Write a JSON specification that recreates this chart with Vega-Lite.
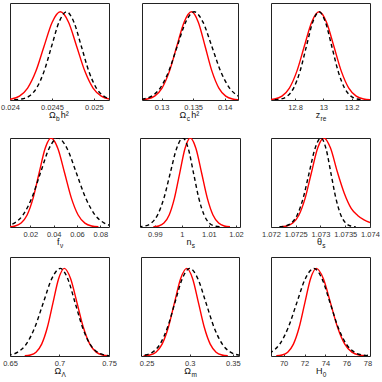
{
"$schema": "https://vega.github.io/schema/vega-lite/v6.json",
"padding": {"left": 0, "top": 2, "right": 0, "bottom": 0},
"data": {"name": "d"},
"datasets": {"d": [
{"p":"ob","s":"r","x":0.023918,"y":0.0022},{"p":"ob","s":"r","x":0.024015,"y":0.0111},{"p":"ob","s":"r","x":0.024113,"y":0.0439},{"p":"ob","s":"r","x":0.02421,"y":0.1353},{"p":"ob","s":"r","x":0.024308,"y":0.3247},{"p":"ob","s":"r","x":0.024405,"y":0.6065},{"p":"ob","s":"r","x":0.024503,"y":0.8825},{"p":"ob","s":"r","x":0.0246,"y":1},{"p":"ob","s":"r","x":0.024698,"y":0.8825},{"p":"ob","s":"r","x":0.024795,"y":0.6065},{"p":"ob","s":"r","x":0.024893,"y":0.3247},{"p":"ob","s":"r","x":0.02499,"y":0.1353},{"p":"ob","s":"r","x":0.025088,"y":0.0439},{"p":"ob","s":"r","x":0.025185,"y":0.0111},
{"p":"ob","s":"k","x":0.02405,"y":0.0022},{"p":"ob","s":"k","x":0.024139,"y":0.0111},{"p":"ob","s":"k","x":0.024228,"y":0.0439},{"p":"ob","s":"k","x":0.024317,"y":0.1353},{"p":"ob","s":"k","x":0.024406,"y":0.3247},{"p":"ob","s":"k","x":0.024495,"y":0.6065},{"p":"ob","s":"k","x":0.024584,"y":0.8825},{"p":"ob","s":"k","x":0.024673,"y":1},{"p":"ob","s":"k","x":0.024762,"y":0.8825},{"p":"ob","s":"k","x":0.024851,"y":0.6065},{"p":"ob","s":"k","x":0.02494,"y":0.3247},{"p":"ob","s":"k","x":0.025029,"y":0.1353},{"p":"ob","s":"k","x":0.025118,"y":0.0439},{"p":"ob","s":"k","x":0.025207,"y":0.0111},
{"p":"oc","s":"r","x":0.126575,"y":0.0022},{"p":"oc","s":"r","x":0.12774,"y":0.0111},{"p":"oc","s":"r","x":0.128905,"y":0.0439},{"p":"oc","s":"r","x":0.13007,"y":0.1353},{"p":"oc","s":"r","x":0.131235,"y":0.3247},{"p":"oc","s":"r","x":0.1324,"y":0.6065},{"p":"oc","s":"r","x":0.133565,"y":0.8825},{"p":"oc","s":"r","x":0.13473,"y":1},{"p":"oc","s":"r","x":0.135815,"y":0.8825},{"p":"oc","s":"r","x":0.1369,"y":0.6065},{"p":"oc","s":"r","x":0.137985,"y":0.3247},{"p":"oc","s":"r","x":0.13907,"y":0.1353},{"p":"oc","s":"r","x":0.140155,"y":0.0439},{"p":"oc","s":"r","x":0.14124,"y":0.0111},{"p":"oc","s":"r","x":0.142325,"y":0.0022},
{"p":"oc","s":"k","x":0.125745,"y":0.0022},{"p":"oc","s":"k","x":0.12709,"y":0.0111},{"p":"oc","s":"k","x":0.128435,"y":0.0439},{"p":"oc","s":"k","x":0.12978,"y":0.1353},{"p":"oc","s":"k","x":0.131125,"y":0.3247},{"p":"oc","s":"k","x":0.13247,"y":0.6065},{"p":"oc","s":"k","x":0.133815,"y":0.8825},{"p":"oc","s":"k","x":0.13516,"y":1},{"p":"oc","s":"k","x":0.13656,"y":0.8825},{"p":"oc","s":"k","x":0.13796,"y":0.6065},{"p":"oc","s":"k","x":0.13936,"y":0.3247},{"p":"oc","s":"k","x":0.14076,"y":0.1353},{"p":"oc","s":"k","x":0.14216,"y":0.0439},
{"p":"zre","s":"r","x":12.6025,"y":0.0022},{"p":"zre","s":"r","x":12.655,"y":0.0111},{"p":"zre","s":"r","x":12.7075,"y":0.0439},{"p":"zre","s":"r","x":12.76,"y":0.1353},{"p":"zre","s":"r","x":12.8125,"y":0.3247},{"p":"zre","s":"r","x":12.865,"y":0.6065},{"p":"zre","s":"r","x":12.9175,"y":0.8825},{"p":"zre","s":"r","x":12.97,"y":1},{"p":"zre","s":"r","x":13.0225,"y":0.8825},{"p":"zre","s":"r","x":13.075,"y":0.6065},{"p":"zre","s":"r","x":13.1275,"y":0.3247},{"p":"zre","s":"r","x":13.18,"y":0.1353},{"p":"zre","s":"r","x":13.2325,"y":0.0439},{"p":"zre","s":"r","x":13.285,"y":0.0111},{"p":"zre","s":"r","x":13.3375,"y":0.0022},
{"p":"zre","s":"k","x":12.655,"y":0.0022},{"p":"zre","s":"k","x":12.7,"y":0.0111},{"p":"zre","s":"k","x":12.745,"y":0.0439},{"p":"zre","s":"k","x":12.79,"y":0.1353},{"p":"zre","s":"k","x":12.835,"y":0.3247},{"p":"zre","s":"k","x":12.88,"y":0.6065},{"p":"zre","s":"k","x":12.925,"y":0.8825},{"p":"zre","s":"k","x":12.97,"y":1},{"p":"zre","s":"k","x":13.015,"y":0.8825},{"p":"zre","s":"k","x":13.06,"y":0.6065},{"p":"zre","s":"k","x":13.105,"y":0.3247},{"p":"zre","s":"k","x":13.15,"y":0.1353},{"p":"zre","s":"k","x":13.195,"y":0.0439},{"p":"zre","s":"k","x":13.24,"y":0.0111},{"p":"zre","s":"k","x":13.285,"y":0.0022},
{"p":"fnu","s":"r","x":0.00175,"y":0.0022},{"p":"fnu","s":"r","x":0.0069,"y":0.0111},{"p":"fnu","s":"r","x":0.01205,"y":0.0439},{"p":"fnu","s":"r","x":0.0172,"y":0.1353},{"p":"fnu","s":"r","x":0.02235,"y":0.3247},{"p":"fnu","s":"r","x":0.0275,"y":0.6065},{"p":"fnu","s":"r","x":0.03265,"y":0.8825},{"p":"fnu","s":"r","x":0.0378,"y":1},{"p":"fnu","s":"r","x":0.0436,"y":0.8825},{"p":"fnu","s":"r","x":0.0494,"y":0.6065},{"p":"fnu","s":"r","x":0.0552,"y":0.3247},{"p":"fnu","s":"r","x":0.061,"y":0.1353},{"p":"fnu","s":"r","x":0.0668,"y":0.0439},{"p":"fnu","s":"r","x":0.0726,"y":0.0111},{"p":"fnu","s":"r","x":0.0784,"y":0.0022},
{"p":"fnu","s":"k","x":-0.0012,"y":0.0111},{"p":"fnu","s":"k","x":0.00625,"y":0.0439},{"p":"fnu","s":"k","x":0.0137,"y":0.1353},{"p":"fnu","s":"k","x":0.02115,"y":0.3247},{"p":"fnu","s":"k","x":0.0286,"y":0.6065},{"p":"fnu","s":"k","x":0.03605,"y":0.8825},{"p":"fnu","s":"k","x":0.0435,"y":1},{"p":"fnu","s":"k","x":0.0515,"y":0.8825},{"p":"fnu","s":"k","x":0.0595,"y":0.6065},{"p":"fnu","s":"k","x":0.0675,"y":0.3247},{"p":"fnu","s":"k","x":0.0755,"y":0.1353},{"p":"fnu","s":"k","x":0.0835,"y":0.0439},{"p":"fnu","s":"k","x":0.0915,"y":0.0111},
{"p":"ns","s":"r","x":0.98945,"y":0.0022},{"p":"ns","s":"r","x":0.9914,"y":0.0111},{"p":"ns","s":"r","x":0.99335,"y":0.0439},{"p":"ns","s":"r","x":0.9953,"y":0.1353},{"p":"ns","s":"r","x":0.99725,"y":0.3247},{"p":"ns","s":"r","x":0.9992,"y":0.6065},{"p":"ns","s":"r","x":1.00115,"y":0.8825},{"p":"ns","s":"r","x":1.0031,"y":1},{"p":"ns","s":"r","x":1.0052,"y":0.8825},{"p":"ns","s":"r","x":1.0073,"y":0.6065},{"p":"ns","s":"r","x":1.0094,"y":0.3247},{"p":"ns","s":"r","x":1.0115,"y":0.1353},{"p":"ns","s":"r","x":1.0136,"y":0.0439},{"p":"ns","s":"r","x":1.0157,"y":0.0111},{"p":"ns","s":"r","x":1.0178,"y":0.0022},
{"p":"ns","s":"k","x":0.98395,"y":0.0022},{"p":"ns","s":"k","x":0.9863,"y":0.0111},{"p":"ns","s":"k","x":0.98865,"y":0.0439},{"p":"ns","s":"k","x":0.991,"y":0.1353},{"p":"ns","s":"k","x":0.99335,"y":0.3247},{"p":"ns","s":"k","x":0.9957,"y":0.6065},{"p":"ns","s":"k","x":0.99805,"y":0.8825},{"p":"ns","s":"k","x":1.0004,"y":1},{"p":"ns","s":"k","x":1.00235,"y":0.8825},{"p":"ns","s":"k","x":1.0043,"y":0.6065},{"p":"ns","s":"k","x":1.00625,"y":0.3247},{"p":"ns","s":"k","x":1.0082,"y":0.1353},{"p":"ns","s":"k","x":1.01015,"y":0.0439},{"p":"ns","s":"k","x":1.0121,"y":0.0111},{"p":"ns","s":"k","x":1.01405,"y":0.0022},
{"p":"ths","s":"r","x":1.07219,"y":0.0022},{"p":"ths","s":"r","x":1.072315,"y":0.0111},{"p":"ths","s":"r","x":1.07244,"y":0.0439},{"p":"ths","s":"r","x":1.072565,"y":0.1353},{"p":"ths","s":"r","x":1.07269,"y":0.3247},{"p":"ths","s":"r","x":1.072815,"y":0.6065},{"p":"ths","s":"r","x":1.07294,"y":0.8825},{"p":"ths","s":"r","x":1.073065,"y":1},{"p":"ths","s":"r","x":1.0732,"y":0.89},{"p":"ths","s":"r","x":1.07334,"y":0.62},{"p":"ths","s":"r","x":1.07348,"y":0.38},{"p":"ths","s":"r","x":1.07362,"y":0.21},{"p":"ths","s":"r","x":1.07375,"y":0.13},{"p":"ths","s":"r","x":1.07388,"y":0.08},{"p":"ths","s":"r","x":1.074,"y":0.05},
{"p":"ths","s":"k","x":1.07217,"y":0.0022},{"p":"ths","s":"k","x":1.07229,"y":0.0111},{"p":"ths","s":"k","x":1.07241,"y":0.0439},{"p":"ths","s":"k","x":1.07253,"y":0.1353},{"p":"ths","s":"k","x":1.07265,"y":0.3247},{"p":"ths","s":"k","x":1.07277,"y":0.6065},{"p":"ths","s":"k","x":1.07289,"y":0.8825},{"p":"ths","s":"k","x":1.07301,"y":1},{"p":"ths","s":"k","x":1.07311,"y":0.8825},{"p":"ths","s":"k","x":1.07321,"y":0.6065},{"p":"ths","s":"k","x":1.07331,"y":0.3247},{"p":"ths","s":"k","x":1.07341,"y":0.1353},{"p":"ths","s":"k","x":1.07351,"y":0.0439},{"p":"ths","s":"k","x":1.07361,"y":0.0111},{"p":"ths","s":"k","x":1.07371,"y":0.0022},
{"p":"oL","s":"r","x":0.6649,"y":0.0022},{"p":"oL","s":"r","x":0.6706,"y":0.0111},{"p":"oL","s":"r","x":0.6763,"y":0.0439},{"p":"oL","s":"r","x":0.682,"y":0.1353},{"p":"oL","s":"r","x":0.6877,"y":0.3247},{"p":"oL","s":"r","x":0.6934,"y":0.6065},{"p":"oL","s":"r","x":0.6991,"y":0.8825},{"p":"oL","s":"r","x":0.7048,"y":1},{"p":"oL","s":"r","x":0.71125,"y":0.8825},{"p":"oL","s":"r","x":0.7177,"y":0.6065},{"p":"oL","s":"r","x":0.72415,"y":0.3247},{"p":"oL","s":"r","x":0.7306,"y":0.1353},{"p":"oL","s":"r","x":0.73705,"y":0.0439},{"p":"oL","s":"r","x":0.7435,"y":0.0111},{"p":"oL","s":"r","x":0.74995,"y":0.0022},
{"p":"oL","s":"k","x":0.6406,"y":0.0022},{"p":"oL","s":"k","x":0.6492,"y":0.0111},{"p":"oL","s":"k","x":0.6578,"y":0.0439},{"p":"oL","s":"k","x":0.6664,"y":0.1353},{"p":"oL","s":"k","x":0.675,"y":0.3247},{"p":"oL","s":"k","x":0.6836,"y":0.6065},{"p":"oL","s":"k","x":0.6922,"y":0.8825},{"p":"oL","s":"k","x":0.7008,"y":1},{"p":"oL","s":"k","x":0.7083,"y":0.8825},{"p":"oL","s":"k","x":0.7158,"y":0.6065},{"p":"oL","s":"k","x":0.7233,"y":0.3247},{"p":"oL","s":"k","x":0.7308,"y":0.1353},{"p":"oL","s":"k","x":0.7383,"y":0.0439},{"p":"oL","s":"k","x":0.7458,"y":0.0111},{"p":"oL","s":"k","x":0.7533,"y":0.0022},
{"p":"om","s":"r","x":0.24655,"y":0.0022},{"p":"om","s":"r","x":0.2537,"y":0.0111},{"p":"om","s":"r","x":0.26085,"y":0.0439},{"p":"om","s":"r","x":0.268,"y":0.1353},{"p":"om","s":"r","x":0.27515,"y":0.3247},{"p":"om","s":"r","x":0.2823,"y":0.6065},{"p":"om","s":"r","x":0.28945,"y":0.8825},{"p":"om","s":"r","x":0.2966,"y":1},{"p":"om","s":"r","x":0.3034,"y":0.8825},{"p":"om","s":"r","x":0.3102,"y":0.6065},{"p":"om","s":"r","x":0.317,"y":0.3247},{"p":"om","s":"r","x":0.3238,"y":0.1353},{"p":"om","s":"r","x":0.3306,"y":0.0439},{"p":"om","s":"r","x":0.3374,"y":0.0111},{"p":"om","s":"r","x":0.3442,"y":0.0022},
{"p":"om","s":"k","x":0.2398,"y":0.0022},{"p":"om","s":"k","x":0.2484,"y":0.0111},{"p":"om","s":"k","x":0.257,"y":0.0439},{"p":"om","s":"k","x":0.2656,"y":0.1353},{"p":"om","s":"k","x":0.2742,"y":0.3247},{"p":"om","s":"k","x":0.2828,"y":0.6065},{"p":"om","s":"k","x":0.2914,"y":0.8825},{"p":"om","s":"k","x":0.3,"y":1},{"p":"om","s":"k","x":0.30945,"y":0.8825},{"p":"om","s":"k","x":0.3189,"y":0.6065},{"p":"om","s":"k","x":0.32835,"y":0.3247},{"p":"om","s":"k","x":0.3378,"y":0.1353},{"p":"om","s":"k","x":0.34725,"y":0.0439},{"p":"om","s":"k","x":0.3567,"y":0.0111},{"p":"om","s":"k","x":0.36615,"y":0.0022},
{"p":"h0","s":"r","x":69.305,"y":0.0022},{"p":"h0","s":"r","x":69.85,"y":0.0111},{"p":"h0","s":"r","x":70.395,"y":0.0439},{"p":"h0","s":"r","x":70.94,"y":0.1353},{"p":"h0","s":"r","x":71.485,"y":0.3247},{"p":"h0","s":"r","x":72.03,"y":0.6065},{"p":"h0","s":"r","x":72.575,"y":0.8825},{"p":"h0","s":"r","x":73.12,"y":1},{"p":"h0","s":"r","x":73.8,"y":0.8825},{"p":"h0","s":"r","x":74.48,"y":0.6065},{"p":"h0","s":"r","x":75.16,"y":0.3247},{"p":"h0","s":"r","x":75.84,"y":0.1353},{"p":"h0","s":"r","x":76.52,"y":0.0439},{"p":"h0","s":"r","x":77.2,"y":0.0111},{"p":"h0","s":"r","x":77.88,"y":0.0022},
{"p":"h0","s":"k","x":68.0,"y":0.0111},{"p":"h0","s":"k","x":68.815,"y":0.0439},{"p":"h0","s":"k","x":69.63,"y":0.1353},{"p":"h0","s":"k","x":70.445,"y":0.3247},{"p":"h0","s":"k","x":71.26,"y":0.6065},{"p":"h0","s":"k","x":72.075,"y":0.8825},{"p":"h0","s":"k","x":72.89,"y":1},{"p":"h0","s":"k","x":73.665,"y":0.8825},{"p":"h0","s":"k","x":74.44,"y":0.6065},{"p":"h0","s":"k","x":75.215,"y":0.3247},{"p":"h0","s":"k","x":75.99,"y":0.1353},{"p":"h0","s":"k","x":76.765,"y":0.0439},{"p":"h0","s":"k","x":77.54,"y":0.0111},{"p":"h0","s":"k","x":78.315,"y":0.0022}
]},
"config": {
"font": "Liberation Sans",
"view": {"stroke": "#222222", "strokeWidth": 1},
"axis": {"grid": false, "domain": false, "labelFontSize": 7.5, "labelColor": "#333333", "labelFlush": false, "labelOverlap": false, "labelBound": false, "ticks": true, "tickSize": -2, "tickColor": "#333333", "labelPadding": 5, "titleFontSize": 9, "titleFontWeight": "normal", "titleColor": "#111111"}
},
"spacing": 15,
"vconcat": [
{"hconcat": [
{"width": 99, "height": 97, "transform": [{"filter": "datum.p=='ob'"}], "resolve": {"axis": {"x": "independent"}}, "layer": [
 {"transform": [{"filter": "datum.s=='r'"}], "mark": {"type": "line", "color": "#ff0000", "strokeWidth": 1.4, "interpolate": "monotone", "clip": true}, "encoding": {"x": {"field": "x", "type": "quantitative", "scale": {"domain": [0.024, 0.02518], "zero": false, "nice": false}, "axis": {"values": [0.024, 0.0245, 0.025], "format": "~g", "title": "Ω\u00a0\u00a0h²", "titleX": 38.5, "titleY": 17, "titleAlign": "left", "titleBaseline": "alphabetic"}}, "y": {"field": "y", "type": "quantitative", "scale": {"domain": [0, 1.1]}, "axis": null}}},
 {"transform": [{"filter": "datum.s=='k'"}], "mark": {"type": "line", "color": "#000000", "strokeWidth": 1.4, "strokeDash": [4, 3], "interpolate": "monotone", "clip": true}, "encoding": {"x": {"field": "x", "type": "quantitative", "scale": {"domain": [0.024, 0.02518], "zero": false, "nice": false}, "axis": {"orient": "bottom", "labels": false, "ticks": false, "title": "b", "titleFontSize": 6.5, "titleX": 45.6, "titleY": 20, "titleAlign": "left", "titleBaseline": "alphabetic"}}, "y": {"field": "y", "type": "quantitative", "scale": {"domain": [0, 1.1]}, "axis": null}}}
]},
{"width": 96, "height": 97, "transform": [{"filter": "datum.p=='oc'"}], "resolve": {"axis": {"x": "independent"}}, "layer": [
 {"transform": [{"filter": "datum.s=='r'"}], "mark": {"type": "line", "color": "#ff0000", "strokeWidth": 1.4, "interpolate": "monotone", "clip": true}, "encoding": {"x": {"field": "x", "type": "quantitative", "scale": {"domain": [0.1269, 0.1421], "zero": false, "nice": false}, "axis": {"values": [0.13, 0.135, 0.14], "format": "~g", "title": "Ω\u00a0\u00a0h²", "titleX": 37, "titleY": 17, "titleAlign": "left", "titleBaseline": "alphabetic"}}, "y": {"field": "y", "type": "quantitative", "scale": {"domain": [0, 1.1]}, "axis": null}}},
 {"transform": [{"filter": "datum.s=='k'"}], "mark": {"type": "line", "color": "#000000", "strokeWidth": 1.4, "strokeDash": [4, 3], "interpolate": "monotone", "clip": true}, "encoding": {"x": {"field": "x", "type": "quantitative", "scale": {"domain": [0.1269, 0.1421], "zero": false, "nice": false}, "axis": {"orient": "bottom", "labels": false, "ticks": false, "title": "c", "titleFontSize": 6.5, "titleX": 44.2, "titleY": 20, "titleAlign": "left", "titleBaseline": "alphabetic"}}, "y": {"field": "y", "type": "quantitative", "scale": {"domain": [0, 1.1]}, "axis": null}}}
]},
{"width": 99, "height": 97, "transform": [{"filter": "datum.p=='zre'"}], "resolve": {"axis": {"x": "independent"}}, "layer": [
 {"transform": [{"filter": "datum.s=='r'"}], "mark": {"type": "line", "color": "#ff0000", "strokeWidth": 1.4, "interpolate": "monotone", "clip": true}, "encoding": {"x": {"field": "x", "type": "quantitative", "scale": {"domain": [12.63, 13.33], "zero": false, "nice": false}, "axis": {"values": [12.8, 13, 13.2], "format": "~g", "title": "z", "titleX": 44.3, "titleY": 17, "titleAlign": "left", "titleBaseline": "alphabetic"}}, "y": {"field": "y", "type": "quantitative", "scale": {"domain": [0, 1.1]}, "axis": null}}},
 {"transform": [{"filter": "datum.s=='k'"}], "mark": {"type": "line", "color": "#000000", "strokeWidth": 1.4, "strokeDash": [4, 3], "interpolate": "monotone", "clip": true}, "encoding": {"x": {"field": "x", "type": "quantitative", "scale": {"domain": [12.63, 13.33], "zero": false, "nice": false}, "axis": {"orient": "bottom", "labels": false, "ticks": false, "title": "re", "titleFontSize": 6.5, "titleX": 49.1, "titleY": 20, "titleAlign": "left", "titleBaseline": "alphabetic"}}, "y": {"field": "y", "type": "quantitative", "scale": {"domain": [0, 1.1]}, "axis": null}}}
]}
], "spacing": 33, "bounds": "flush"},
{"spacing": 7, "vconcat": [
{"hconcat": [
{"width": 99, "height": 89, "transform": [{"filter": "datum.p=='fnu'"}], "resolve": {"axis": {"x": "independent"}}, "layer": [
 {"transform": [{"filter": "datum.s=='r'"}], "mark": {"type": "line", "color": "#ff0000", "strokeWidth": 1.4, "interpolate": "monotone", "clip": true}, "encoding": {"x": {"field": "x", "type": "quantitative", "scale": {"domain": [0.0025, 0.0875], "zero": false, "nice": false}, "axis": {"values": [0.02, 0.04, 0.06, 0.08], "format": "~g", "title": "f", "titleX": 46.6, "titleY": 17, "titleAlign": "left", "titleBaseline": "alphabetic"}}, "y": {"field": "y", "type": "quantitative", "scale": {"domain": [0, 1]}, "axis": null}}},
 {"transform": [{"filter": "datum.s=='k'"}], "mark": {"type": "line", "color": "#000000", "strokeWidth": 1.4, "strokeDash": [4, 3], "interpolate": "monotone", "clip": true}, "encoding": {"x": {"field": "x", "type": "quantitative", "scale": {"domain": [0.0025, 0.0875], "zero": false, "nice": false}, "axis": {"orient": "bottom", "labels": false, "ticks": false, "title": "ν", "titleFontSize": 6.5, "titleX": 49.4, "titleY": 20, "titleAlign": "left", "titleBaseline": "alphabetic"}}, "y": {"field": "y", "type": "quantitative", "scale": {"domain": [0, 1]}, "axis": null}}}
]},
{"width": 100, "height": 89, "transform": [{"filter": "datum.p=='ns'"}], "resolve": {"axis": {"x": "independent"}}, "layer": [
 {"transform": [{"filter": "datum.s=='r'"}], "mark": {"type": "line", "color": "#ff0000", "strokeWidth": 1.4, "interpolate": "monotone", "clip": true}, "encoding": {"x": {"field": "x", "type": "quantitative", "scale": {"domain": [0.9845, 1.0215], "zero": false, "nice": false}, "axis": {"values": [0.99, 1, 1.01, 1.02], "format": "~g", "title": "n", "titleX": 45.9, "titleY": 17, "titleAlign": "left", "titleBaseline": "alphabetic"}}, "y": {"field": "y", "type": "quantitative", "scale": {"domain": [0, 1]}, "axis": null}}},
 {"transform": [{"filter": "datum.s=='k'"}], "mark": {"type": "line", "color": "#000000", "strokeWidth": 1.4, "strokeDash": [4, 3], "interpolate": "monotone", "clip": true}, "encoding": {"x": {"field": "x", "type": "quantitative", "scale": {"domain": [0.9845, 1.0215], "zero": false, "nice": false}, "axis": {"orient": "bottom", "labels": false, "ticks": false, "title": "s", "titleFontSize": 6.5, "titleX": 51.2, "titleY": 20, "titleAlign": "left", "titleBaseline": "alphabetic"}}, "y": {"field": "y", "type": "quantitative", "scale": {"domain": [0, 1]}, "axis": null}}}
]},
{"width": 99, "height": 89, "transform": [{"filter": "datum.p=='ths'"}], "resolve": {"axis": {"x": "independent"}}, "layer": [
 {"transform": [{"filter": "datum.s=='r'"}], "mark": {"type": "line", "color": "#ff0000", "strokeWidth": 1.4, "interpolate": "monotone", "clip": true}, "encoding": {"x": {"field": "x", "type": "quantitative", "scale": {"domain": [1.072, 1.074], "zero": false, "nice": false}, "axis": {"values": [1.072, 1.0725, 1.073, 1.0735, 1.074], "format": "~g", "title": "θ", "titleX": 45.4, "titleY": 17, "titleAlign": "left", "titleBaseline": "alphabetic"}}, "y": {"field": "y", "type": "quantitative", "scale": {"domain": [0, 1]}, "axis": null}}},
 {"transform": [{"filter": "datum.s=='k'"}], "mark": {"type": "line", "color": "#000000", "strokeWidth": 1.4, "strokeDash": [4, 3], "interpolate": "monotone", "clip": true}, "encoding": {"x": {"field": "x", "type": "quantitative", "scale": {"domain": [1.072, 1.074], "zero": false, "nice": false}, "axis": {"orient": "bottom", "labels": false, "ticks": false, "title": "s", "titleFontSize": 6.5, "titleX": 50.7, "titleY": 20, "titleAlign": "left", "titleBaseline": "alphabetic"}}, "y": {"field": "y", "type": "quantitative", "scale": {"domain": [0, 1]}, "axis": null}}}
]}
], "spacing": 31, "bounds": "flush"},
{"hconcat": [
{"width": 99, "height": 99, "transform": [{"filter": "datum.p=='oL'"}], "resolve": {"axis": {"x": "independent"}}, "layer": [
 {"transform": [{"filter": "datum.s=='r'"}], "mark": {"type": "line", "color": "#ff0000", "strokeWidth": 1.4, "interpolate": "monotone", "clip": true}, "encoding": {"x": {"field": "x", "type": "quantitative", "scale": {"domain": [0.65, 0.75], "zero": false, "nice": false}, "axis": {"values": [0.65, 0.7, 0.75], "format": "~g", "title": "Ω", "titleX": 43.9, "titleY": 17, "titleAlign": "left", "titleBaseline": "alphabetic"}}, "y": {"field": "y", "type": "quantitative", "scale": {"domain": [0, 1.13]}, "axis": null}}},
 {"transform": [{"filter": "datum.s=='k'"}], "mark": {"type": "line", "color": "#000000", "strokeWidth": 1.4, "strokeDash": [4, 3], "interpolate": "monotone", "clip": true}, "encoding": {"x": {"field": "x", "type": "quantitative", "scale": {"domain": [0.65, 0.75], "zero": false, "nice": false}, "axis": {"orient": "bottom", "labels": false, "ticks": false, "title": "Λ", "titleFontSize": 6.5, "titleX": 51.1, "titleY": 20, "titleAlign": "left", "titleBaseline": "alphabetic"}}, "y": {"field": "y", "type": "quantitative", "scale": {"domain": [0, 1.13]}, "axis": null}}}
]},
{"width": 98, "height": 99, "transform": [{"filter": "datum.p=='om'"}], "resolve": {"axis": {"x": "independent"}}, "layer": [
 {"transform": [{"filter": "datum.s=='r'"}], "mark": {"type": "line", "color": "#ff0000", "strokeWidth": 1.4, "interpolate": "monotone", "clip": true}, "encoding": {"x": {"field": "x", "type": "quantitative", "scale": {"domain": [0.2435, 0.3572], "zero": false, "nice": false}, "axis": {"values": [0.25, 0.3, 0.35], "format": "~g", "title": "Ω", "titleX": 42.85, "titleY": 17, "titleAlign": "left", "titleBaseline": "alphabetic"}}, "y": {"field": "y", "type": "quantitative", "scale": {"domain": [0, 1.13]}, "axis": null}}},
 {"transform": [{"filter": "datum.s=='k'"}], "mark": {"type": "line", "color": "#000000", "strokeWidth": 1.4, "strokeDash": [4, 3], "interpolate": "monotone", "clip": true}, "encoding": {"x": {"field": "x", "type": "quantitative", "scale": {"domain": [0.2435, 0.3572], "zero": false, "nice": false}, "axis": {"orient": "bottom", "labels": false, "ticks": false, "title": "m", "titleFontSize": 6.5, "titleX": 50.05, "titleY": 20, "titleAlign": "left", "titleBaseline": "alphabetic"}}, "y": {"field": "y", "type": "quantitative", "scale": {"domain": [0, 1.13]}, "axis": null}}}
]},
{"width": 99, "height": 99, "transform": [{"filter": "datum.p=='h0'"}], "resolve": {"axis": {"x": "independent"}}, "layer": [
 {"transform": [{"filter": "datum.s=='r'"}], "mark": {"type": "line", "color": "#ff0000", "strokeWidth": 1.4, "interpolate": "monotone", "clip": true}, "encoding": {"x": {"field": "x", "type": "quantitative", "scale": {"domain": [68.8, 78.25], "zero": false, "nice": false}, "axis": {"values": [70, 72, 74, 76, 78], "format": "~g", "title": "H", "titleX": 44.45, "titleY": 17, "titleAlign": "left", "titleBaseline": "alphabetic"}}, "y": {"field": "y", "type": "quantitative", "scale": {"domain": [0, 1.13]}, "axis": null}}},
 {"transform": [{"filter": "datum.s=='k'"}], "mark": {"type": "line", "color": "#000000", "strokeWidth": 1.4, "strokeDash": [4, 3], "interpolate": "monotone", "clip": true}, "encoding": {"x": {"field": "x", "type": "quantitative", "scale": {"domain": [68.8, 78.25], "zero": false, "nice": false}, "axis": {"orient": "bottom", "labels": false, "ticks": false, "title": "0", "titleFontSize": 6.5, "titleX": 51.25, "titleY": 20, "titleAlign": "left", "titleBaseline": "alphabetic"}}, "y": {"field": "y", "type": "quantitative", "scale": {"domain": [0, 1.13]}, "axis": null}}}
]}
], "spacing": 32, "bounds": "flush"}
]}
]
}
